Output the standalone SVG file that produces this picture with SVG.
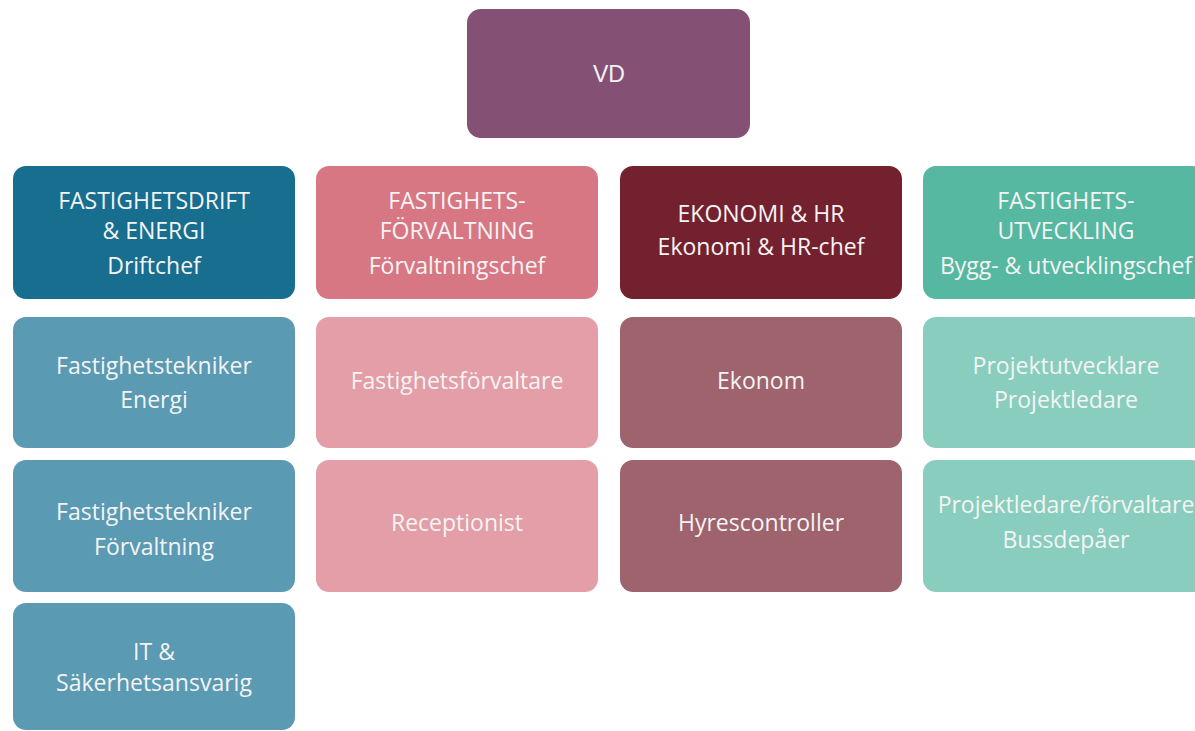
<svg xmlns="http://www.w3.org/2000/svg" width="1195" height="731" viewBox="0 0 1195 731">
<style>
text{font-family:"Open Sans","Noto Sans","DejaVu Sans",sans-serif;font-size:23px;fill:#f4f4f4;text-anchor:middle}
.vd{font-family:"Liberation Sans",Arial,sans-serif;font-size:23px}
.c1h{fill:#176e8f}.c1{fill:#5a9ab3}
.c2h{fill:#d87784}.c2{fill:#e39ea8}
.c3h{fill:#74212f}.c3{fill:#9e636c}
.c4h{fill:#56b8a0}.c4{fill:#89cdbe}
</style>
<rect width="1195" height="731" fill="#ffffff"/>
<g id="connectors"></g>
<g id="vd"><rect x="467" y="9" width="283" height="129" rx="14" fill="#845175"/><text class="vd" x="609" y="82">VD</text></g>
<g id="drift"><rect class="c1h" x="13" y="166" width="282" height="133" rx="13"/><text x="154" y="209">FASTIGHETSDRIFT</text><text x="154" y="239">&amp; ENERGI</text><text x="154" y="274">Driftchef</text></g>
<g id="forv"><rect class="c2h" x="316" y="166" width="282" height="133" rx="13"/><text x="457" y="209">FASTIGHETS-</text><text x="457" y="239">FÖRVALTNING</text><text x="457" y="274">Förvaltningschef</text></g>
<g id="ekonomi"><rect class="c3h" x="620" y="166" width="282" height="133" rx="13"/><text x="761" y="222">EKONOMI &amp; HR</text><text x="761" y="255">Ekonomi &amp; HR-chef</text></g>
<g id="utv"><rect class="c4h" x="923" y="166" width="282" height="133" rx="13"/><text x="1066" y="209">FASTIGHETS-</text><text x="1066" y="239">UTVECKLING</text><text x="1066" y="274">Bygg- &amp; utvecklingschef</text></g>
<g id="tekn-energi"><rect class="c1" x="13" y="317" width="282" height="131" rx="13"/><text x="154" y="374">Fastighetstekniker</text><text x="154" y="408">Energi</text></g>
<g id="tekn-forv"><rect class="c1" x="13" y="460" width="282" height="132" rx="13"/><text x="154" y="520">Fastighetstekniker</text><text x="154" y="555">Förvaltning</text></g>
<g id="it"><rect class="c1" x="13" y="603" width="282" height="127" rx="13"/><text x="154" y="660">IT &amp;</text><text x="154" y="691">Säkerhetsansvarig</text></g>
<g id="fastforv"><rect class="c2" x="316" y="317" width="282" height="131" rx="13"/><text x="457" y="389">Fastighetsförvaltare</text></g>
<g id="reception"><rect class="c2" x="316" y="460" width="282" height="132" rx="13"/><text x="457" y="531">Receptionist</text></g>
<g id="ekonom"><rect class="c3" x="620" y="317" width="282" height="131" rx="13"/><text x="761" y="389">Ekonom</text></g>
<g id="hyres"><rect class="c3" x="620" y="460" width="282" height="132" rx="13"/><text x="761" y="531">Hyrescontroller</text></g>
<g id="projutv"><rect class="c4" x="923" y="317" width="282" height="131" rx="13"/><text x="1066" y="374">Projektutvecklare</text><text x="1066" y="408">Projektledare</text></g>
<g id="projled"><rect class="c4" x="923" y="460" width="282" height="132" rx="13"/><text x="1066" y="513">Projektledare/förvaltare</text><text x="1066" y="548">Bussdepåer</text></g>
</svg>
